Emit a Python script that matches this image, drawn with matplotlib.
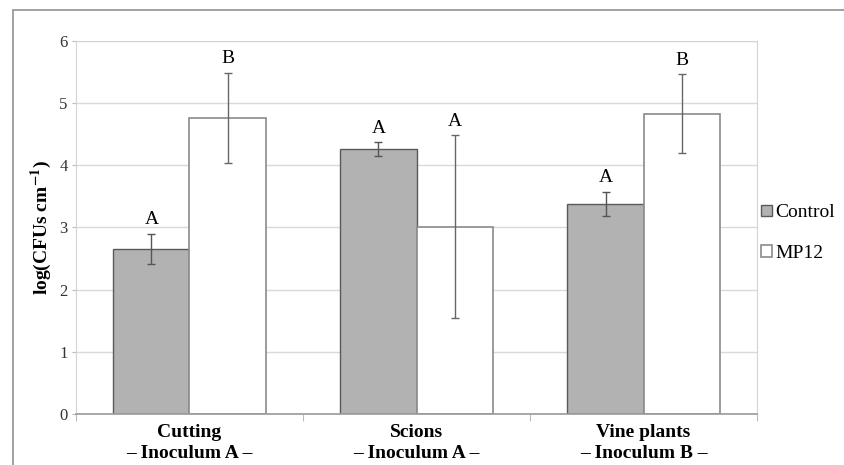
import matplotlib
matplotlib.use("Agg")
import matplotlib.pyplot as plt
from matplotlib.patches import Rectangle

# Bacterial counts per plant material, Control vs MP12 treatment
groups = ["Cutting\n\u2013 Inoculum A \u2013",
          "Scions\n\u2013 Inoculum A \u2013",
          "Vine plants\n\u2013 Inoculum B \u2013"]
control_mean = [2.66, 4.26, 3.38]
control_err = [0.24, 0.11, 0.19]
mp12_mean = [4.76, 3.01, 4.83]
mp12_err = [0.73, 1.47, 0.63]
control_letters = ["A", "A", "A"]
mp12_letters = ["B", "A", "B"]

SERIF = ["Liberation Serif", "DejaVu Serif"]
plt.rcParams["font.family"] = SERIF
plt.rcParams["mathtext.fontset"] = "stix"

fig = plt.figure(figsize=(8.44, 4.65), dpi=100)
ax = fig.add_axes([0.090, 0.1097, 0.807, 0.8023])

# outer frame around the whole chart
fig.patches.append(Rectangle((13 / 844, -0.05), 1.2, 1.05 - 10 / 465,
                             transform=fig.transFigure, fill=False,
                             edgecolor="#9a9a9a", linewidth=1.3))

w = 0.335
x = range(len(groups))
xc = [i - w / 2 for i in x]
xm = [i + w / 2 for i in x]

ax.set_axisbelow(True)
ax.yaxis.grid(True, color="#d9d9d9", linewidth=1.0)
ax.bar(xc, control_mean, width=w, color="#b2b2b2", edgecolor="#5a5a5a",
       linewidth=1.0, label="Control", zorder=2)
ax.bar(xm, mp12_mean, width=w, color="white", edgecolor="#8a8a8a",
       linewidth=1.2, label="MP12", zorder=2)
ax.errorbar(xc, control_mean, yerr=control_err, fmt="none", ecolor="#555555",
            elinewidth=1.0, capsize=3, capthick=1.0, zorder=3)
ax.errorbar(xm, mp12_mean, yerr=mp12_err, fmt="none", ecolor="#666666",
            elinewidth=1.0, capsize=3, capthick=1.0, zorder=3)

for xs, means, errs, letters in ((xc, control_mean, control_err, control_letters),
                                 (xm, mp12_mean, mp12_err, mp12_letters)):
    for xi, m, e, t in zip(xs, means, errs, letters):
        ax.annotate(t, (xi, m + e), xytext=(0, 4), textcoords="offset points",
                    ha="center", va="bottom", fontsize=14, color="black")

ax.set_xlim(-0.5, 2.5)
ax.set_ylim(0, 6)
ax.set_yticks(range(7))
ax.tick_params(axis="y", labelsize=12, colors="#333333", length=3,
               color="#bbbbbb", pad=3)
ax.set_xticks([-0.5, 0.5, 1.5, 2.5])
ax.set_xticklabels([])
ax.tick_params(axis="x", length=5, color="#bbbbbb")
for i, g in enumerate(groups):
    ax.text(i, -0.16, g, transform=ax.transData, ha="center", va="top",
            fontsize=14, fontweight="bold", linespacing=1.35)

for side in ("left", "top", "right"):
    ax.spines[side].set_color("#d4d4d4")
ax.spines["bottom"].set_color("#9a9a9a")
ax.spines["bottom"].set_linewidth(1.2)

ax.set_ylabel(r"log(CFUs cm$^{\mathbf{-1}}$)", fontsize=14, fontweight="bold",
              labelpad=4)

leg = ax.legend(loc="center left", bbox_to_anchor=(1.006, 0.485), frameon=False,
                fontsize=14, handlelength=0.55, handleheight=0.55,
                handletextpad=0.2, labelspacing=1.2, borderaxespad=0,
                borderpad=0)

fig.savefig("out.png", dpi=100)
